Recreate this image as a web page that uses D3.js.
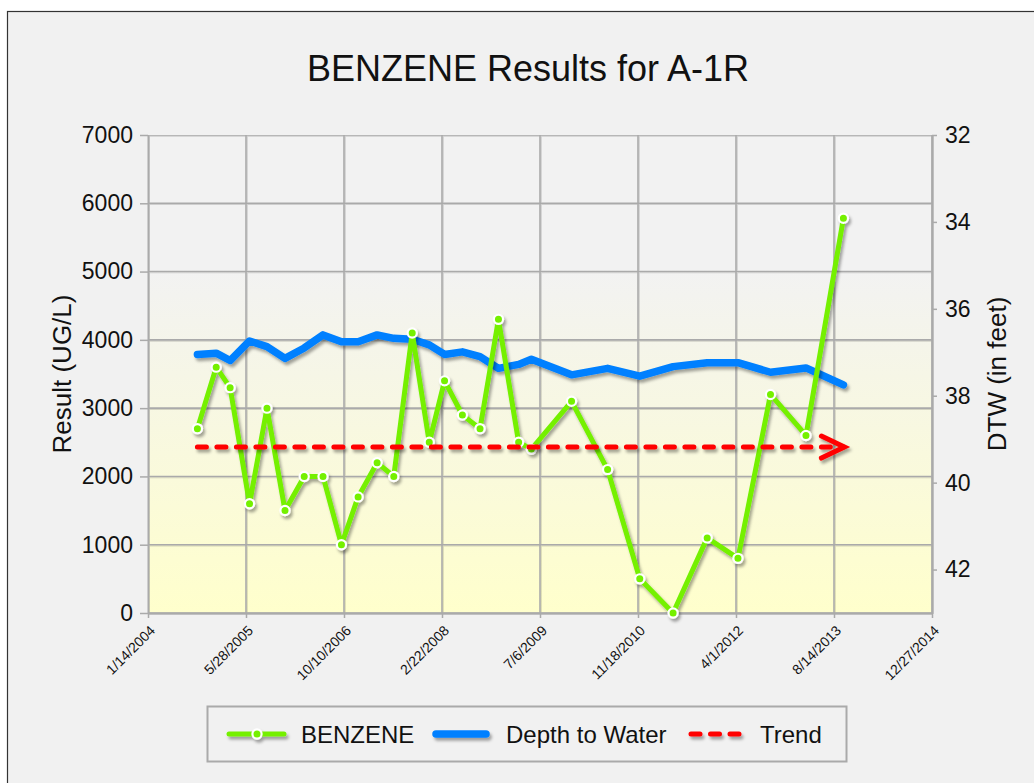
<!DOCTYPE html>
<html>
<head>
<meta charset="utf-8">
<script src="https://cdn.jsdelivr.net/npm/d3@7"></script>
<style>
  body { margin: 0; background: #fff; }
  text { font-family: "Liberation Sans", Arial, sans-serif; fill: #111; }
</style>
</head>
<body>
<div id="chart"></div>
<script>
// sample dates and results
const sampleDates = [
  "2004-09-22", "2004-12-27", "2005-03-08", "2005-06-15", "2005-09-12", "2005-12-13",
  "2006-03-21", "2006-06-25", "2006-09-27", "2006-12-21", "2007-03-28", "2007-06-21",
  "2007-09-23", "2007-12-19", "2008-03-06", "2008-06-05", "2008-09-03", "2008-12-06",
  "2009-03-19", "2009-05-23", "2009-12-14", "2010-06-16", "2010-11-27", "2011-05-16",
  "2011-11-06", "2012-04-11", "2012-09-24", "2013-03-24", "2013-10-01"
];
const benzene = [
  2700, 3600, 3300, 1600, 3000, 1500,
  2000, 2000, 1000, 1700, 2200, 2000,
  4100, 2500, 3400, 2900, 2700, 4300,
  2500, 2400, 3100, 2100, 500, 0,
  1100, 800, 3200, 2600, 5780
];
const depthToWater = [
  37.05, 37.02, 37.19, 36.74, 36.87, 37.14,
  36.90, 36.60, 36.76, 36.76, 36.60, 36.68,
  36.70, 36.83, 37.05, 36.99, 37.10, 37.37,
  37.28, 37.16, 37.52, 37.37, 37.55, 37.33,
  37.24, 37.24, 37.46, 37.36, 37.75
];
const trendDates = ["2004-09-22", "2013-10-01"];
const trendValues = [2430, 2430];

const xTickLabels = ["1/14/2004", "5/28/2005", "10/10/2006", "2/22/2008", "7/6/2009",
  "11/18/2010", "4/1/2012", "8/14/2013", "12/27/2014"];
const resultTicks = [0, 1000, 2000, 3000, 4000, 5000, 6000, 7000];
const dtwTicks = [32, 34, 36, 38, 40, 42];

const W = 1034, H = 783;
const margin = { top: 135, right: 102, bottom: 170, left: 148 },
  width = W - margin.left - margin.right,
  height = H - margin.top - margin.bottom;

const parseDate = d3.timeParse("%Y-%m-%d");
const parseTick = d3.timeParse("%m/%d/%Y");
const tickDates = xTickLabels.map(parseTick);

const svg = d3.select("#chart").append("svg")
  .attr("width", W).attr("height", H)
  .attr("xmlns", "http://www.w3.org/2000/svg");

const defs = svg.append("defs");
const grad = defs.append("linearGradient").attr("id", "plotbg")
  .attr("x1", 0).attr("y1", 0).attr("x2", 0).attr("y2", 1);
grad.append("stop").attr("offset", "0%").attr("stop-color", "#f2f2f2");
grad.append("stop").attr("offset", "28%").attr("stop-color", "#f2f2f2");
grad.append("stop").attr("offset", "100%").attr("stop-color", "#ffffcc");

// shadow under the series lines (user space so flat lines keep it)
defs.append("filter").attr("id", "shadow")
  .attr("filterUnits", "userSpaceOnUse")
  .attr("x", 0).attr("y", 0).attr("width", W).attr("height", H)
  .append("feDropShadow")
  .attr("dx", 2).attr("dy", 3).attr("stdDeviation", 1.6)
  .attr("flood-color", "#000").attr("flood-opacity", 0.35);
defs.append("filter").attr("id", "gridshadow")
  .attr("filterUnits", "userSpaceOnUse")
  .attr("x", 0).attr("y", 0).attr("width", W).attr("height", H)
  .append("feDropShadow")
  .attr("dx", 1).attr("dy", 1).attr("stdDeviation", 0.6)
  .attr("flood-color", "#000").attr("flood-opacity", 0.15);

// outer frame
svg.append("rect")
  .attr("x", 7.5).attr("y", 11.5).attr("width", W).attr("height", H)
  .attr("fill", "#f1f1f1").attr("stroke", "#333").attr("stroke-width", 1.2);

const g = svg.append("g").attr("transform", `translate(${margin.left},${margin.top})`);

// scales
const x = d3.scaleTime().domain([tickDates[0], tickDates[tickDates.length - 1]]).range([0, width]);
const y = d3.scaleLinear().domain([0, 7000]).range([height, 0]);
const y2 = d3.scaleLinear().domain([32, 43]).range([0, height]);

g.append("rect").attr("width", width).attr("height", height).attr("fill", "url(#plotbg)");

// grid
const grid = g.append("g").attr("filter", "url(#gridshadow)")
  .attr("stroke", "#aaa").attr("stroke-width", 1.6);
grid.selectAll(".vg").data(tickDates).join("line")
  .attr("x1", d => x(d)).attr("x2", d => x(d)).attr("y1", 0).attr("y2", height);
grid.selectAll(".hg").data(resultTicks).join("line")
  .attr("x1", 0).attr("x2", width).attr("y1", d => y(d)).attr("y2", d => y(d));

// axes
function styleAxis(sel, size) {
  sel.select(".domain").attr("stroke", "#aaa").attr("stroke-width", 2);
  sel.selectAll(".tick line").attr("stroke", "#aaa").attr("stroke-width", 1.5);
  sel.selectAll(".tick text").style("font-size", size + "px").attr("fill", "#111");
}
g.append("g")
  .call(d3.axisLeft(y).tickValues(resultTicks).tickFormat(d3.format("d"))
    .tickSize(8).tickSizeOuter(0).tickPadding(7))
  .call(s => styleAxis(s, 23));
g.append("g").attr("transform", `translate(${width},0)`)
  .call(d3.axisRight(y2).tickValues(dtwTicks).tickSize(5).tickSizeOuter(0).tickPadding(8))
  .call(s => styleAxis(s, 23));
g.append("g").attr("transform", `translate(0,${height})`)
  .call(d3.axisBottom(x).tickValues(tickDates).tickSize(5).tickSizeOuter(0)
    .tickFormat((d, i) => xTickLabels[i]))
  .call(s => styleAxis(s, 14))
  .call(s => s.selectAll(".tick text")
    .attr("text-anchor", "end").attr("x", 0).attr("y", 0).attr("dy", "0.35em")
    .attr("transform", "translate(4,15) rotate(-45)"));

// titles
svg.append("text").attr("x", 528).attr("y", 81).attr("text-anchor", "middle")
  .style("font-size", "36px").text("BENZENE Results for A-1R");
svg.append("text").attr("transform", "translate(71,374) rotate(-90)").attr("text-anchor", "middle")
  .style("font-size", "26px").text("Result (UG/L)");
svg.append("text").attr("transform", "translate(1006,374) rotate(-90)").attr("text-anchor", "middle")
  .style("font-size", "26px").text("DTW (in feet)");

// series
const dates = sampleDates.map(parseDate);
const GREEN = "#74f000", BLUE = "#0080ff", RED = "#ff0000";

g.append("path").datum(depthToWater)
  .attr("fill", "none").attr("stroke", BLUE).attr("stroke-width", 7.5)
  .attr("stroke-linejoin", "round").attr("stroke-linecap", "round")
  .attr("filter", "url(#shadow)")
  .attr("d", d3.line().x((d, i) => x(dates[i])).y(d => y2(d)));

const bz = g.append("g").attr("filter", "url(#shadow)");
bz.append("path").datum(benzene)
  .attr("fill", "none").attr("stroke", GREEN).attr("stroke-width", 5)
  .attr("stroke-linejoin", "round")
  .attr("d", d3.line().x((d, i) => x(dates[i])).y(d => y(d)));
bz.selectAll("circle").data(benzene).join("circle")
  .attr("cx", (d, i) => x(dates[i])).attr("cy", d => y(d)).attr("r", 4.6)
  .attr("fill", GREEN).attr("stroke", "#fff").attr("stroke-width", 2.2);

// trend with arrow head
const tDates = trendDates.map(parseDate);
const tr = g.append("g").attr("filter", "url(#shadow)")
  .attr("fill", "none").attr("stroke", RED).attr("stroke-width", 5);
tr.append("path").datum(trendValues)
  .attr("stroke-dasharray", "9 10.5").attr("stroke-linecap", "round")
  .attr("d", d3.line().x((d, i) => x(tDates[i])).y(d => y(d)));
const tipX = x(tDates[1]) + 1, tipY = y(trendValues[1]);
tr.append("path").attr("stroke-linecap", "round").attr("stroke-linejoin", "miter")
  .attr("d", `M${tipX - 23},${tipY - 11}L${tipX},${tipY}L${tipX - 23},${tipY + 11}`);

// legend
const lg = svg.append("g");
lg.append("rect").attr("x", 207.5).attr("y", 706.5).attr("width", 639).attr("height", 55)
  .attr("fill", "none").attr("stroke", "#aaa").attr("stroke-width", 2);
const ly = 734;
const items = lg.append("g").attr("filter", "url(#shadow)");
items.append("line").attr("x1", 229).attr("x2", 284).attr("y1", ly).attr("y2", ly)
  .attr("stroke", GREEN).attr("stroke-width", 5).attr("stroke-linecap", "round");
items.append("circle").attr("cx", 257).attr("cy", ly).attr("r", 4.6)
  .attr("fill", GREEN).attr("stroke", "#fff").attr("stroke-width", 2.2);
items.append("line").attr("x1", 436).attr("x2", 486).attr("y1", ly).attr("y2", ly)
  .attr("stroke", BLUE).attr("stroke-width", 7.5).attr("stroke-linecap", "round");
items.append("line").attr("x1", 691).attr("x2", 742).attr("y1", ly).attr("y2", ly)
  .attr("stroke", RED).attr("stroke-width", 5).attr("stroke-linecap", "round")
  .attr("stroke-dasharray", "9 10.5");
[["BENZENE", 301], ["Depth to Water", 506], ["Trend", 760]].forEach(([t, lx]) => {
  lg.append("text").attr("x", lx).attr("y", ly).attr("dy", "0.36em")
    .style("font-size", "24px").text(t);
});
</script>
</body>
</html>
